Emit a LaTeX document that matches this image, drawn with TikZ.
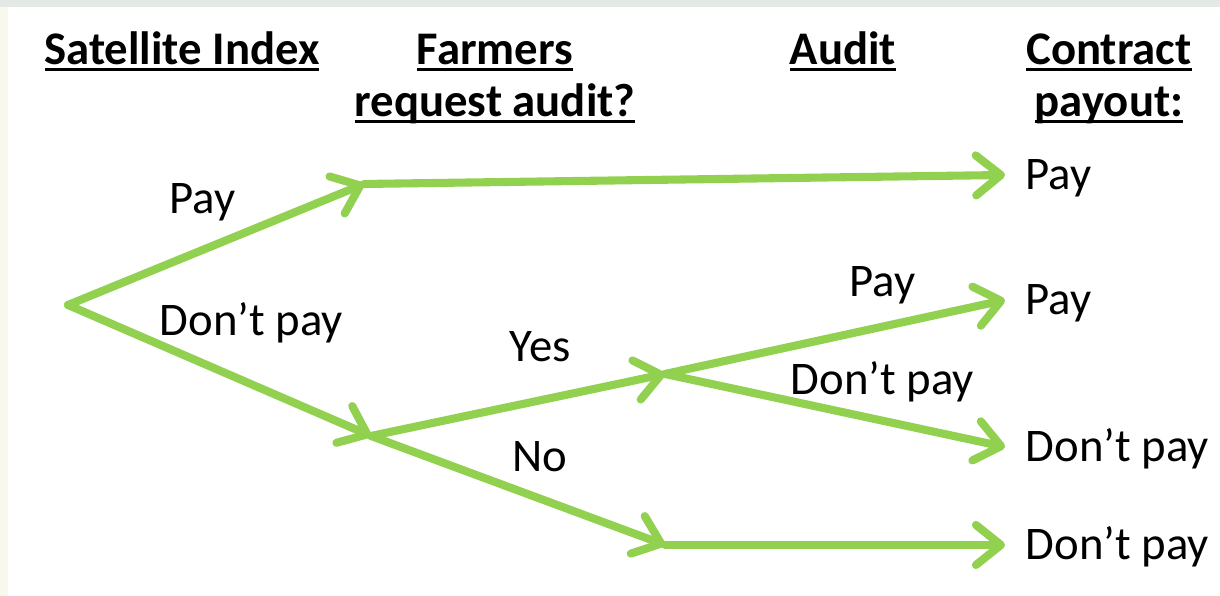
\documentclass[tikz,border=0pt]{standalone}
\usepackage{fontspec}
\setmainfont{Carlito}
\usetikzlibrary{arrows.meta}

\definecolor{branchgreen}{HTML}{92D050}
\definecolor{edgegrey}{HTML}{E3EAE5}
\definecolor{edgecream}{HTML}{F8F8EF}

% heavy underline for the column titles
\newcommand{\hdrline}[1]{\setbox0\hbox{#1}\rlap{\rule[-0.13em]{\wd0}{0.06em}}\box0}

\begin{document}
\begin{tikzpicture}[
      branch/.style={line width=2.3pt,branchgreen,line cap=round,
        -{Straight Barb[length=2.5mm,width=4mm,round]}},
      head/.style={anchor=base,inner sep=0pt,font=\bfseries\fontsize{13.3}{15}\selectfont},
      blabel/.style={anchor=base west,inner sep=0pt,font=\fontsize{13.3}{15}\selectfont},
      outcome/.style={anchor=west,inner xsep=0.2cm,inner ysep=0pt,
        text height=8.4pt,text depth=0pt,font=\fontsize{13.3}{15}\selectfont},
      ]
      \def\xend{10.05}
      \def\rowa{5.31}
      \def\rowb{4.79}
      \useasboundingbox (0,0) rectangle (12.2,5.96);
      \fill[white] (0,0) rectangle (12.2,5.96);
      \fill[edgecream] (0,0) rectangle (0.08,5.96);
      \fill[edgegrey] (0,5.89) rectangle (12.2,5.96);

      % column titles
      \node[head] (satidx) at (1.82,\rowa) {\hdrline{Satellite Index}};
      \node[head] (farmers) at (4.95,\rowa) {\hdrline{Farmers}};
      \node[head] (request) at (4.95,\rowb) {\hdrline{request audit?}};
      \node[head] (audit) at (8.43,\rowa) {\hdrline{Audit}};
      \node[head] (contract) at (11.09,\rowa) {\hdrline{Contract}};
      \node[head] (payout) at (11.09,\rowb) {\hdrline{payout:}};

      % decision points
      \coordinate (root) at (0.68,2.91);
      \coordinate (idxpay) at (3.64,4.12);
      \coordinate (idxno) at (3.71,1.60);
      \coordinate (askyes) at (6.65,2.22);
      \coordinate (askno) at (6.65,0.51);

      % contract payouts
      \node[outcome] (outa) at (\xend,4.21) {Pay};
      \node[outcome] (outb) at (\xend,2.96) {Pay};
      \node[outcome] (outc) at (\xend,1.49) {Don’t pay};
      \node[outcome] (outd) at (\xend,0.51) {Don’t pay};

      \draw[branch] (root) -- (idxpay);
      \node[blabel] (lidxpay) at (1.69,3.82) {Pay};
      \draw[branch] (root) -- (idxno);
      \node[blabel] (lidxno) at (1.59,2.60) {Don’t pay};

      \draw[branch] (idxpay) -- (outa.west);

      \draw[branch] (idxno) -- (askyes);
      \node[blabel] (lyes) at (5.09,2.34) {Yes};
      \draw[branch] (idxno) -- (askno);
      \node[blabel] (lno) at (5.12,1.24) {No};

      \draw[branch] (askyes) -- (outb.west);
      \node[blabel] (laudpay) at (8.49,2.99) {Pay};
      \draw[branch] (askyes) -- (outc.west);
      \node[blabel] (laudno) at (7.90,2.01) {Don’t pay};

      \draw[branch] (askno) -- (outd.west);
    \end{tikzpicture}
\end{document}
